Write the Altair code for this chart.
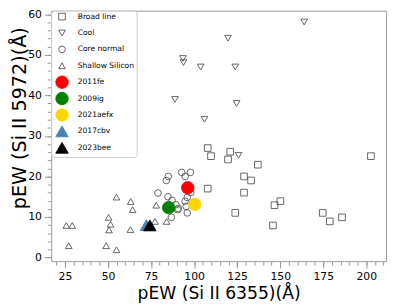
import altair as alt
import pandas as pd

# ---- data ----
broad_x = [107.9, 109.8, 121.0, 119.7, 202.7, 137.0, 129.0, 133.1, 107.9, 129.0,
           150.1, 146.7, 123.9, 174.7, 178.8, 185.9, 145.8]
broad_y = [27.0, 25.0, 26.1, 24.2, 25.0, 22.9, 20.0, 19.0, 17.0, 16.0,
           13.9, 12.9, 11.0, 11.0, 8.9, 9.9, 7.9]

cool_x = [163.9, 119.7, 93.5, 93.8, 103.8, 123.9, 124.7, 106.0, 125.8, 88.9]
cool_y = [58.1, 54.1, 49.1, 48.1, 47.0, 47.0, 38.0, 34.1, 25.2, 39.0]

core_x = [79.0, 83.9, 85.0, 84.8, 87.2, 89.4, 90.4, 86.8, 92.8, 94.8,
          97.9, 94.8, 96.0, 96.0, 90.8, 95.4, 98.0]
core_y = [15.9, 19.0, 20.0, 15.0, 14.1, 13.0, 11.8, 9.9, 21.0, 20.0,
          21.0, 13.9, 14.8, 11.0, 12.1, 12.6, 16.0]

shallow_x = [54.9, 63.2, 64.3, 50.3, 51.5, 50.6, 25.8, 29.2, 27.2, 48.9,
             54.9, 63.0, 78.0, 77.3, 84.0]
shallow_y = [14.9, 13.8, 11.8, 9.9, 8.2, 6.8, 7.9, 7.9, 2.9, 2.9,
             1.9, 6.9, 12.9, 8.9, 8.9]

hl_names = ["2011fe", "2009ig", "2021aefx", "2017cbv", "2023bee"]
hl_x = [96.3, 85.2, 100.4, 72.3, 74.3]
hl_y = [17.2, 12.3, 13.1, 8.0, 7.9]

groups = ["Broad line", "Cool", "Core normal", "Shallow Silicon"] + hl_names
shapes = ["square", "triangle-down", "circle", "triangle-up",
          "circle", "circle", "circle", "triangle-up", "triangle-up"]
fills = ["transparent"] * 4 + ["#ff0000", "#008000", "#ffd700", "#4682b4", "#000000"]
strokes = ["#555555"] * 4 + ["#ff0000", "#008000", "#ffd700", "#4682b4", "#000000"]
SMALL, BIG = 46, 160

x_major = [25, 50, 75, 100, 125, 150, 175, 200]
x_minor = list(range(20, 211, 5))
y_major = [0, 10, 20, 30, 40, 50, 60]
y_minor = list(range(0, 61, 2))

rows = []
for name, xs, ys in [("Broad line", broad_x, broad_y), ("Cool", cool_x, cool_y),
                     ("Core normal", core_x, core_y), ("Shallow Silicon", shallow_x, shallow_y)]:
    for a, b in zip(xs, ys):
        rows.append({"x": a, "y": b, "group": name})
for n, a, b in zip(hl_names, hl_x, hl_y):
    rows.append({"x": a, "y": b, "group": n})
df = pd.DataFrame(rows)

FONT = "DejaVu Sans"
xdom = [17, 211.5]
ydom = [-0.9, 60.9]
TICK = "#999999"
hl_list = "[" + ",".join("'" + n + "'" for n in hl_names) + "]"

minor = alt.Chart(df).mark_point(opacity=0).encode(
    x=alt.X("x:Q", scale=alt.Scale(domain=xdom, nice=False, zero=False),
            axis=alt.Axis(orient="bottom", values=x_minor, labels=False, tickSize=4,
                          tickColor=TICK, domain=False, grid=False, title=None)),
    y=alt.Y("y:Q", scale=alt.Scale(domain=ydom, nice=False, zero=False),
            axis=alt.Axis(orient="left", values=y_minor, labels=False, tickSize=4,
                          tickColor=TICK, domain=False, grid=False, title=None)),
)

main = alt.Chart(df).mark_point(filled=False, strokeWidth=0.9, opacity=1).encode(
    x=alt.X("x:Q", scale=alt.Scale(domain=xdom, nice=False, zero=False),
            axis=alt.Axis(orient="bottom", values=x_major, tickSize=7, tickColor=TICK,
                          domain=False, grid=False, labelFont=FONT, labelFontSize=11,
                          labelColor="black", labelPadding=3, title="pEW (Si II 6355)(Å)",
                          titleFont=FONT, titleFontSize=17.5, titleFontWeight="normal",
                          titleColor="black", titlePadding=3)),
    y=alt.Y("y:Q", scale=alt.Scale(domain=ydom, nice=False, zero=False),
            axis=alt.Axis(orient="left", values=y_major, tickSize=7, tickColor=TICK,
                          domain=False, grid=False, labelFont=FONT, labelFontSize=11,
                          labelColor="black", labelPadding=3, title="pEW (Si II 5972)(Å)",
                          titleFont=FONT, titleFontSize=19.5, titleFontWeight="normal",
                          titleColor="black", titleBaseline="alphabetic",
                          titleX=-26, titleY=109)),
    shape=alt.Shape("group:N", scale=alt.Scale(domain=groups, range=shapes), sort=groups,
                    legend=alt.Legend(title=None, orient="none", legendX=0, legendY=0,
                                      padding=2, rowPadding=-1.3, gridAlign="all",
                                      labelFont=FONT, labelFontSize=7.7, labelColor="black",
                                      labelOffset=12, symbolOffset=5,
                                      strokeColor="#cccccc", fillColor="white",
                                      cornerRadius=3, symbolStrokeWidth=0.9,
                                      symbolSize=alt.ExprRef(
                                          expr="indexof(" + hl_list + ", datum.value) >= 0 ? "
                                               + str(BIG) + " : " + str(SMALL)))),
    fill=alt.Fill("group:N", scale=alt.Scale(domain=groups, range=fills), sort=groups),
    stroke=alt.Stroke("group:N", scale=alt.Scale(domain=groups, range=strokes), sort=groups),
    size=alt.condition(alt.FieldOneOfPredicate(field="group", oneOf=hl_names),
                       alt.value(BIG), alt.value(SMALL)),
)

chart = alt.layer(minor, main).resolve_axis(x="independent", y="independent").properties(
    width=341, height=255,
    padding={"left": 44, "top": 0, "right": 5, "bottom": 45},
    autosize=alt.AutoSizeParams(type="none"),
).configure_view(stroke="#999999", strokeWidth=1)

chart.save("out.html", embed_options={"renderer": "svg", "actions": False})
